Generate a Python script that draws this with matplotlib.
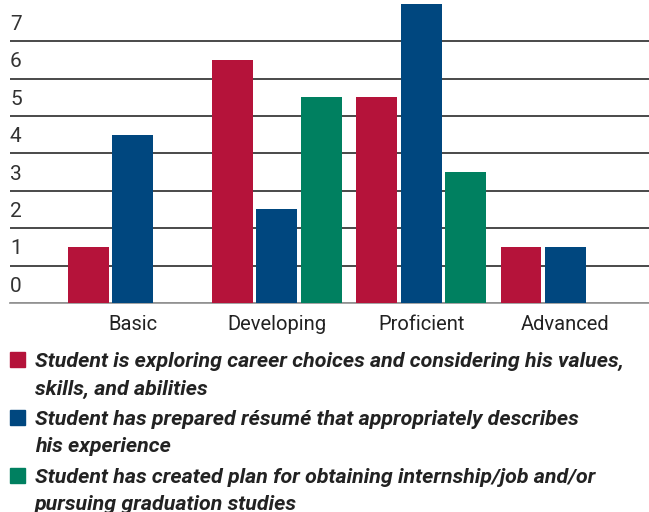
import matplotlib
matplotlib.use("Agg")
import matplotlib.pyplot as plt
from matplotlib.patches import Rectangle
import numpy as np

levels = ["Basic", "Developing", "Proficient", "Advanced"]
exploring = [1.5, 6.5, 5.5, 1.5]
resume = [4.5, 2.5, 8.0, 1.5]
plan = [0, 5.5, 3.5, 0]
y_labels = ["0", "1", "2", "3", "4", "5", "6", "7"]

legend_lines = [
    ["Student is exploring career choices and considering his values,",
     "skills, and abilities"],
    ["Student has prepared résumé that appropriately describes",
     "his experience"],
    ["Student has created plan for obtaining internship/job and/or",
     "pursuing graduation studies"],
]

red = "#b5133a"
blue = "#00477f"
green = "#008060"
colors = [red, blue, green]
ink = "#222222"

plt.rcParams["font.family"] = ["Roboto", "DejaVu Sans"]

fig = plt.figure(figsize=(6.49, 5.12), dpi=100)
ax = fig.add_axes([10 / 649, 209 / 512, 639 / 649, 303 / 512])

x = np.arange(len(levels))
step = 0.308
width = 0.284
for i, (vals, c) in enumerate(zip([exploring, resume, plan], colors)):
    ax.bar(x + (i - 1) * step, vals, width, color=c, zorder=3)

ax.set_xlim(-0.849, 3.579)
ax.set_ylim(0, 8.1)

# gridlines on whole numbers, labels sit between them
ax.set_yticks(np.arange(8))
ax.yaxis.grid(True, color="#3a3a3a", linewidth=1.3, zorder=1)
ax.set_yticks(np.arange(8) + 0.5, y_labels, minor=True)
ax.tick_params(axis="y", which="major", length=0, labelleft=False)
ax.tick_params(axis="y", which="minor", length=0, pad=0, labelsize=15,
               labelcolor="#333333")
for t in ax.get_yticklabels(minor=True):
    t.set_horizontalalignment("left")

ax.set_xticks(x, levels)
ax.tick_params(axis="x", length=0, pad=9, labelsize=14.5, labelcolor=ink)

for s in ["top", "right", "left"]:
    ax.spines[s].set_visible(False)
ax.spines["bottom"].set_color("#9a9a9a")
ax.spines["bottom"].set_linewidth(1.3)

# legend drawn by hand: square + two lines of text each
entry_base = [367, 425, 483]
line_gap = 27.5
for lines, c, y0 in zip(legend_lines, colors, entry_base):
    fig.patches.append(Rectangle((10 / 649, 1 - y0 / 512), 15 / 649, 15 / 512,
                                 transform=fig.transFigure, color=c))
    for j, txt in enumerate(lines):
        yb = y0 + j * line_gap
        fig.text(35 / 649, 1 - yb / 512, txt, ha="left", va="baseline",
                 fontsize=15.4, fontweight="bold", style="italic", color=ink)

fig.savefig("out.png", dpi=100)
